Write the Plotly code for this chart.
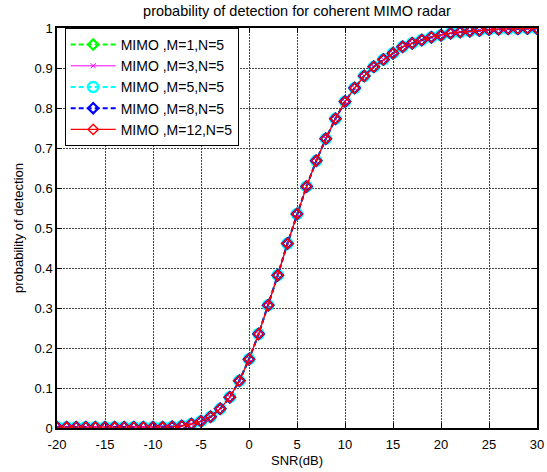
import plotly.graph_objects as go

snr_db = list(range(-20, 31))
pd_values = [0.002, 0.002, 0.002, 0.002, 0.002, 0.002, 0.002, 0.002, 0.002, 0.002,
             0.002, 0.002, 0.003, 0.005, 0.010, 0.017, 0.028, 0.048, 0.077, 0.118,
             0.172, 0.235, 0.307, 0.382, 0.461, 0.535, 0.604, 0.668, 0.723, 0.773,
             0.816, 0.850, 0.880, 0.903, 0.921, 0.937, 0.953, 0.962, 0.970, 0.977,
             0.982, 0.987, 0.990, 0.992, 0.994, 0.996, 0.997, 0.998, 0.998, 0.999, 0.999]

series_names = ["MIMO ,M=1,N=5", "MIMO ,M=3,N=5", "MIMO ,M=5,N=5",
                "MIMO ,M=8,N=5", "MIMO ,M=12,N=5"]
series_values = [pd_values, pd_values, pd_values, pd_values, pd_values]

x_tickvals = [-20, -15, -10, -5, 0, 5, 10, 15, 20, 25, 30]
x_ticktext = ["-20", "-15", "-10", "-5", "0", "5", "10", "15", "20", "25", "30"]
y_tickvals = [0, 0.1, 0.2, 0.3, 0.4, 0.5, 0.6, 0.7, 0.8, 0.9, 1]
y_ticktext = ["0", "0.1", "0.2", "0.3", "0.4", "0.5", "0.6", "0.7", "0.8", "0.9", "1"]

styles = [
    dict(color="#00ff00", dash="5px,3px", lw=2, symbol="diamond-open", msize=8, mlw=2.2),
    dict(color="#ff00ff", dash="solid", lw=1, symbol="x-thin-open", msize=5, mlw=1),
    dict(color="#00ffff", dash="5px,3px", lw=2, symbol="circle-open", msize=10, mlw=2.5),
    dict(color="#0000ff", dash="5px,3px", lw=2, symbol="diamond-open", msize=8, mlw=2.2),
    dict(color="#ff0000", dash="solid", lw=1.3, symbol="diamond-open", msize=8, mlw=1.4),
]

fig = go.Figure()
for name, vals, st in zip(series_names, series_values, styles):
    fig.add_trace(go.Scatter(
        x=snr_db, y=vals, name=name, mode="lines+markers",
        line=dict(color=st["color"], width=st["lw"], dash=st["dash"]),
        marker=dict(symbol=st["symbol"], size=st["msize"],
                    color=st["color"], line=dict(color=st["color"], width=st["mlw"])),
    ))

font_family = "Liberation Sans, Arial, sans-serif"
axis_common = dict(
    showline=True, linecolor="black", linewidth=1.5, mirror="ticks",
    ticks="inside", ticklen=5, tickcolor="black", automargin=False,
    showgrid=True, gridcolor="#444444", gridwidth=1.2, griddash="2px,1px",
    zeroline=False, tickfont=dict(size=13, color="black", family=font_family),
)

fig.update_layout(
    width=547, height=472,
    margin=dict(l=57, r=10, t=28, b=44),
    paper_bgcolor="white", plot_bgcolor="white",
    font=dict(family=font_family, color="black", size=13),
    title=dict(text="probability of detection for coherent MIMO radar",
               x=0.543, xref="container", xanchor="center",
               y=1 - 11 / 472, yref="container", yanchor="middle",
               automargin=False, font=dict(size=14.5, color="black")),
    xaxis=dict(range=[-20, 30], tickmode="array", tickvals=x_tickvals, ticktext=x_ticktext,
               ticklabelstandoff=4,
               title=dict(text="SNR(dB)", standoff=5, font=dict(size=13)),
               **axis_common),
    yaxis=dict(range=[0, 1], tickmode="array", tickvals=y_tickvals, ticktext=y_ticktext,
               title=dict(text="probability of detection", standoff=8, font=dict(size=13)),
               **axis_common),
    legend=dict(x=0.016, y=1.0, xanchor="left", yanchor="top",
                bgcolor="white", bordercolor="black", borderwidth=1,
                font=dict(size=14, color="black", family=font_family),
                itemwidth=45, tracegroupgap=0),
    showlegend=True,
)

fig.write_html("out.html", config={"displayModeBar": False},
               post_script="document.body.style.margin='0';")
